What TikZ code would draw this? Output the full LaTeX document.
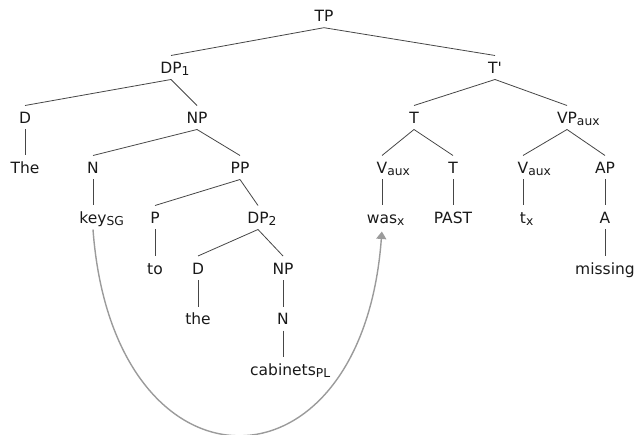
\documentclass[tikz,border=0pt]{standalone}
\usepackage{fontspec}
\setmainfont{DejaVu Sans}
\usetikzlibrary{arrows.meta}
\newcommand\sbx[1]{\rlap{\raisebox{-2.5pt}{\fontsize{12.3}{14}\selectfont #1}}}
\definecolor{treeline}{RGB}{70,70,70}
\definecolor{movegray}{RGB}{155,155,155}
\begin{document}
\begin{tikzpicture}[x=1pt,y=-1pt,
  lab/.style={inner xsep=0pt, inner ysep=0pt, outer xsep=0pt, outer ysep=5.5pt,
    text height=12.5pt, text depth=0.5pt, anchor=base, text=black!90,
    font=\fontsize{15.5}{18}\selectfont},
  branch/.style={draw=treeline, line width=0.8pt},
  move/.style={draw=movegray, line width=1.4pt, shorten >=2pt,
    -{Triangle[width=10pt,length=7.5pt]}}]
\useasboundingbox (0,0) rectangle (636,435);
% row 0
\node[lab] (TP) at (324,21.7) {TP};
% row 1
\node[lab] (DP1) at (171,73.5) {DP\sbx{1}};
\node[lab] (Tbar) at (495,73.5) {T\textquotesingle};
% row 2
\node[lab] (D1) at (25,123.5) {D};
\node[lab] (NP1) at (197,123.5) {NP};
\node[lab] (T1) at (414,123.5) {T};
\node[lab] (VP) at (567,123.5) {VP\sbx{aux}};
% row 3
\node[lab] (The) at (25,173.5) {The};
\node[lab] (N1) at (93,173.5) {N};
\node[lab] (PP) at (240,173.5) {PP};
\node[lab] (V1) at (382,173.5) {V\sbx{aux}};
\node[lab] (T2) at (453,173.5) {T};
\node[lab] (V2) at (523,173.5) {V\sbx{aux}};
\node[lab] (AP) at (605,173.5) {AP};
% row 4
\node[lab] (key) at (93,223.5) {key\sbx{SG}};
\node[lab] (P) at (155,223.5) {P};
\node[lab] (DP2) at (258,223.5) {DP\sbx{2}};
\node[lab] (was) at (382,223.5) {was\sbx{x}};
\node[lab] (PAST) at (453,223.5) {PAST};
\node[lab] (tx) at (523,223.5) {t\sbx{x}};
\node[lab] (A) at (605,223.5) {A};
% row 5
\node[lab] (to) at (155,274) {to};
\node[lab] (D2) at (198,274) {D};
\node[lab] (NP2) at (283,274) {NP};
\node[lab] (missing) at (605,274) {missing};
% row 6
\node[lab] (the) at (198,324.5) {the};
\node[lab] (N2) at (283,324.5) {N};
% row 7
\node[lab] (cab) at (283,375) {cabinets\sbx{PL}};
% branches
\foreach \p/\c in {TP/DP1, TP/Tbar, DP1/D1, DP1/NP1, Tbar/T1, Tbar/VP,
  D1/The, NP1/N1, NP1/PP, T1/V1, T1/T2, VP/V2, VP/AP,
  N1/key, PP/P, PP/DP2, V1/was, T2/PAST, V2/tx, AP/A,
  P/to, DP2/D2, DP2/NP2, A/missing, D2/the, NP2/N2, N2/cab}
  \draw[branch] (\p.south) -- (\c.north);
% movement arrow
\draw[move] (key.south) .. controls +(20,273) and +(-20,274) .. (was.south);
\end{tikzpicture}
\end{document}
